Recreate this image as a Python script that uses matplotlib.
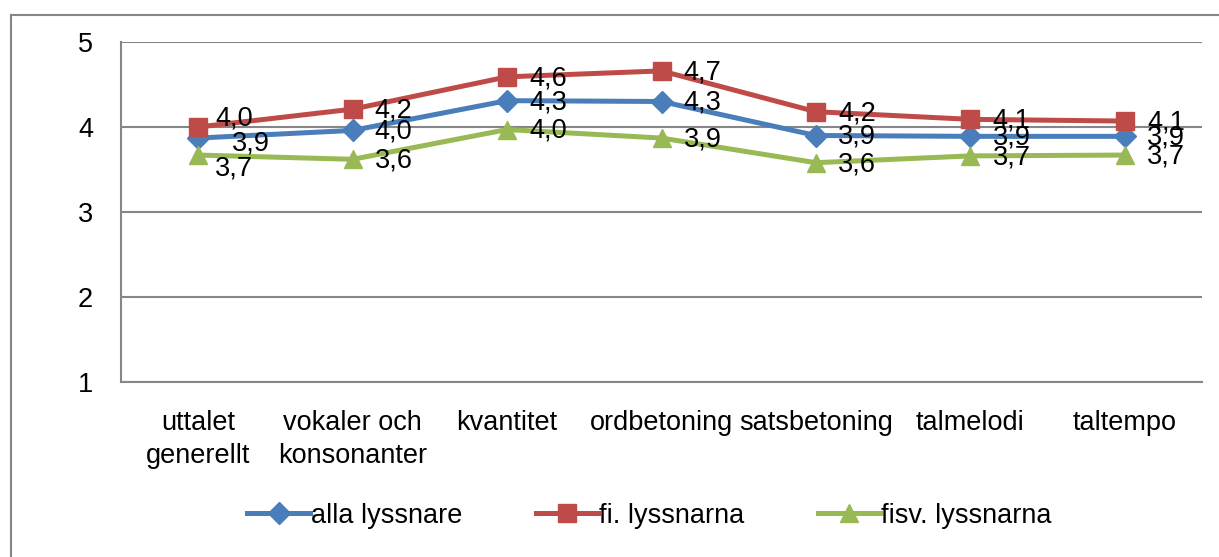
import matplotlib
matplotlib.use("Agg")
import matplotlib.pyplot as plt
from matplotlib.lines import Line2D

plt.rcParams['font.family'] = ['Liberation Sans', 'DejaVu Sans']

categories = ["uttalet\ngenerellt", "vokaler och\nkonsonanter", "kvantitet", "ordbetoning",
              "satsbetoning", "talmelodi", "taltempo"]
alla = [3.87, 3.96, 4.31, 4.30, 3.90, 3.89, 3.89]
fi = [4.00, 4.21, 4.59, 4.66, 4.18, 4.09, 4.07]
fisv = [3.67, 3.62, 3.97, 3.87, 3.58, 3.66, 3.67]
series_names = ["alla lyssnare", "fi. lyssnarna", "fisv. lyssnarna"]
y_ticks = [1, 2, 3, 4, 5]

colors = ["#4A7EBB", "#BE4B48", "#98B954"]
markers = ["D", "s", "^"]
msizes = [11.5, 12.5, 13.5]
FS = 19.5

fig = plt.figure(figsize=(12.19, 5.57), dpi=100)
ax = fig.add_axes([121/1219, 1-382/557, (1202-121)/1219, (382-42)/557])

# outer chart frame
fig.add_artist(Line2D([11/1219, 11/1219], [0, 1-15/557], transform=fig.transFigure,
                      color="#868686", lw=1.5))
fig.add_artist(Line2D([11/1219, 1], [1-15/557, 1-15/557], transform=fig.transFigure,
                      color="#868686", lw=1.5))

x = list(range(len(categories)))
data = [alla, fi, fisv]
for vals, c, m, ms, name in zip(data, colors, markers, msizes, series_names):
    ax.plot(x, vals, color=c, lw=3.6, marker=m, markersize=ms, markeredgecolor=c,
            label=name, zorder=3, solid_joinstyle='round')

# data labels (right of point); first category nudged as in the original
nudges = {0: [(8, -3), (-4, 7), (-4, -9)]}
for si, vals in enumerate(data):
    for i, v in enumerate(vals):
        dx, dy = 16, -1
        if i in nudges:
            ddx, ddy = nudges[i][si]
            dx += ddx
            dy += ddy
        ax.annotate(f"{v:.1f}".replace(".", ","), (i, v), xytext=(dx, dy),
                    textcoords="offset points", ha="left", va="center",
                    fontsize=FS, color="black", zorder=4)

ax.set_xlim(-0.5, len(categories) - 0.5)
ax.set_ylim(1, 5)
ax.set_yticks(y_ticks)
ax.set_yticklabels([str(t) for t in y_ticks], fontsize=FS)
ax.set_xticks(x)
ax.set_xticklabels(categories, fontsize=FS, linespacing=1.35)
ax.tick_params(axis="both", length=0)
ax.tick_params(axis="y", pad=20)
ax.tick_params(axis="x", pad=20)
ax.yaxis.grid(True, color="#868686", lw=1.5)
ax.set_axisbelow(True)
for s in ["top", "right"]:
    ax.spines[s].set_visible(False)
for s in ["left", "bottom"]:
    ax.spines[s].set_color("#868686")
    ax.spines[s].set_linewidth(1.5)

ax.legend(loc="center", bbox_to_anchor=(0.489, -0.394), ncol=3, frameon=False,
          fontsize=FS, handlelength=2.3, columnspacing=2.7, handletextpad=0.05,
          markerscale=1.0)

fig.savefig("out.png", dpi=100)
